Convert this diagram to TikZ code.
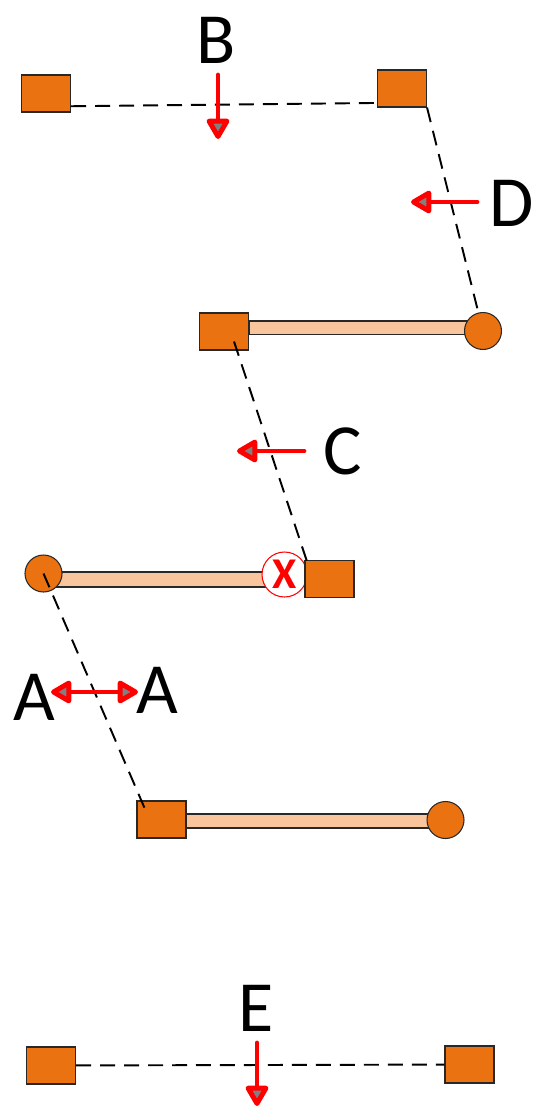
\documentclass[tikz,border=0pt]{standalone}
\usepackage{fontspec}
\setmainfont{Carlito}
\usetikzlibrary{arrows.meta,positioning,calc,backgrounds}
\definecolor{blkorange}{RGB}{234,114,16}
\definecolor{barpeach}{RGB}{249,197,156}
\definecolor{edgegray}{RGB}{40,40,40}
\definecolor{moveRed}{RGB}{255,0,0}
\tikzset{
  blk/.style={rectangle, draw=edgegray, fill=blkorange, line width=0.6pt,
      minimum width=0.98cm, minimum height=0.74cm, inner sep=0pt},
  knob/.style={circle, draw=edgegray, fill=blkorange, line width=0.6pt,
      minimum size=0.74cm, inner sep=0pt},
  bar/.style={draw=edgegray, fill=barpeach, line width=0.6pt},
  link/.style={black, line width=1.1pt, dash pattern=on 0.3cm off 0.18cm},
  tipA/.tip={Triangle[length=4.6mm, width=5mm, fill=gray, round]},
  mv/.style={moveRed, line width=2.8pt, line cap=round, -tipA},
  mvboth/.style={moveRed, line width=2.8pt, tipA-tipA},
  lbl/.style={font=\fontsize{41}{48}\selectfont, inner sep=0pt},
  blocked/.style={circle, draw=moveRed, fill=white, line width=0.6pt,
      minimum size=0.9cm, inner sep=0pt, text=moveRed,
      font=\fontsize{25}{28}\selectfont\bfseries},
}
\begin{document}
\begin{tikzpicture}[x=0.02cm, y=-0.02cm]
\useasboundingbox (0,0) rectangle (533,1108);
%---- blocks and knobs
\node[blk] (sqTL) at (46,93.5) {};
\node[blk] (sqTR) at (402,88.5) {};
\node[blk] (sqM) at (224,331.5) {};
\node[knob] (cirR) at (483,331) {};
\node[knob] (cirL) at (43.5,573.5) {};
\node[blocked] (stop) at (284.5,574.5) {X};
\node[blk] (sqR) at (329.5,579) {};
\node[blk] (sqB) at (161.5,819.5) {};
\node[knob] (cirB) at (445.5,820) {};
\node[blk] (sqEL) at (51,1065.5) {};
\node[blk] (sqER) at (469.5,1064.5) {};
%---- the bars
\begin{scope}[on background layer]
\draw[bar] ([shift={(0,-10.5)}]sqM.east) rectangle ([shift={(0,3.5)}]cirR.center);
\draw[bar] ([shift={(0,-1.5)}]cirL.center) rectangle ([shift={(0,12.5)}]stop.center);
\draw[bar] ([shift={(0,-5.5)}]sqB.east) rectangle ([shift={(0,8)}]cirB.center);
\end{scope}
%---- dashed links
\draw[link] (sqTL.-27) -- (sqTR.210);
\draw[link] (sqTR.south east) -- (cirR);
\draw[link] ([shift={(10,10)}]sqM.center) -- ([shift={(4,6)}]sqR.north west);
\draw[link] (cirL.center) -- ([shift={(-15,-7)}]sqB.center);
\draw[link] (sqEL) -- (sqER);
%---- labels
\node[lbl] (lB) at (216,40) {B};
\node[lbl] (lD) at (512,203) {D};
\node[lbl] (lC) at (343,451) {C};
\node[lbl] (lAl) at (34,697) {A};
\node[lbl] (lAr) at (157,690) {A};
\node[lbl] (lE) at (256,1008) {E};
%---- moves
\coordinate (bT) at (218,75);    \coordinate (bH) at (218,139);
\coordinate (dT) at (477,202);   \coordinate (dH) at (411,202);
\coordinate (cT) at (304,451);   \coordinate (cH) at (237,451);
\coordinate (aL) at (51,692);    \coordinate (aR) at (138,692);
\coordinate (eT) at (257,1043);  \coordinate (eH) at (257,1106);
\draw[mv] (bT) -- (bH);
\draw[mv] (dT) -- (dH);
\draw[mv] (cT) -- (cH);
\draw[mvboth] (aL) -- (aR);
\draw[mv] (eT) -- (eH);
\end{tikzpicture}
\end{document}
